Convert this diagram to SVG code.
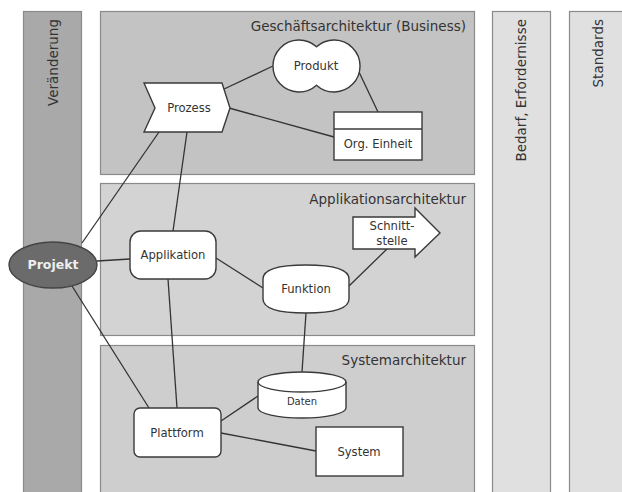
<svg xmlns="http://www.w3.org/2000/svg" width="622" height="492" viewBox="0 0 622 492">
<style>
text{font-family:"DejaVu Sans",Verdana,sans-serif;fill:#333}
.lane{stroke:#8a8a8a;stroke-width:1.2}
.title{font-size:13.5px;text-anchor:end}
.vt{font-size:13.5px;text-anchor:end}
.node{fill:#fff;stroke:#3a3a3a;stroke-width:1.4}
.lbl{font-size:11.6px;text-anchor:middle}
.conn line{stroke:#333;stroke-width:1.3}
</style>
<rect width="622" height="492" fill="#fff"/>
<g id="lanes">
<rect class="lane" x="23.5" y="11.5" width="58" height="490" fill="#a9a9a9"/>
<text class="vt" transform="translate(58,19) rotate(-90)">Veränderung</text>
<rect class="lane" x="492.5" y="11.5" width="58" height="490" fill="#e0e0e0"/>
<text class="vt" transform="translate(526,19) rotate(-90)">Bedarf, Erfordernisse</text>
<rect class="lane" x="569.5" y="11.5" width="60" height="490" fill="#e0e0e0"/>
<text class="vt" transform="translate(603,19) rotate(-90)">Standards</text>
</g>
<g id="layers">
<rect class="lane" x="100.5" y="11.5" width="374" height="163" fill="#c3c3c3"/>
<text class="title" x="466" y="31">Geschäftsarchitektur (Business)</text>
<rect class="lane" x="100.5" y="183.5" width="374" height="152" fill="#d3d3d3"/>
<text class="title" x="466" y="204">Applikationsarchitektur</text>
<rect class="lane" x="100.5" y="345.5" width="374" height="150" fill="#cecece"/>
<text class="title" x="466" y="365">Systemarchitektur</text>
</g>
<g class="conn" id="connectors">
<line x1="222" y1="90" x2="273" y2="66"/>
<line x1="229" y1="108" x2="334" y2="137"/>
<line x1="359" y1="72" x2="378" y2="112"/>
<line x1="159" y1="132" x2="82" y2="243"/>
<line x1="187" y1="132" x2="173" y2="231"/>
<line x1="97" y1="261" x2="130" y2="259"/>
<line x1="72" y1="286" x2="149" y2="408"/>
<line x1="216" y1="258" x2="263" y2="288"/>
<line x1="349" y1="286" x2="387" y2="249"/>
<line x1="306" y1="313" x2="302" y2="372"/>
<line x1="168" y1="279" x2="177" y2="408"/>
<line x1="221" y1="421" x2="258" y2="396"/>
<line x1="221" y1="433" x2="316" y2="451"/>
</g>
<g id="prozess">
<path class="node" d="M144,83 L222,83 L230,108 L222,132 L144,132 L155,108 Z"/>
<text class="lbl" x="189" y="112">Prozess</text>
</g>
<g id="produkt">
<path class="node" d="M316.5,46.8 A26,26 0 1,0 316.5,85.2 A26,26 0 1,0 316.5,46.8 Z"/>
<text class="lbl" x="316" y="70">Produkt</text>
</g>
<g id="org-einheit">
<rect class="node" x="334" y="112" width="88" height="48"/>
<line x1="334" y1="129" x2="422" y2="129" stroke="#3a3a3a" stroke-width="1.4"/>
<text class="lbl" x="378" y="148">Org. Einheit</text>
</g>
<g id="projekt">
<ellipse cx="53" cy="265" rx="44" ry="23" fill="#6b6b6b" stroke="#444" stroke-width="1.4"/>
<text class="lbl" x="53" y="269" style="fill:#eee;font-weight:bold;font-size:12.5px">Projekt</text>
</g>
<g id="applikation">
<rect class="node" x="130" y="231" width="86" height="48" rx="11"/>
<text class="lbl" x="173" y="259">Applikation</text>
</g>
<g id="funktion">
<path class="node" d="M263,279 Q263,265 306,265 Q349,265 349,279 L349,299 Q349,313 306,313 Q263,313 263,299 Z"/>
<text class="lbl" x="306" y="293">Funktion</text>
</g>
<g id="schnittstelle">
<path class="node" d="M353,217 L415,217 L415,208 L440,233 L415,257 L415,249 L353,249 Z"/>
<text class="lbl" x="392" y="230">Schnitt-</text>
<text class="lbl" x="392" y="245">stelle</text>
</g>
<g id="daten">
<path class="node" d="M258,382 L258,408 A44,10 0 0,0 346,408 L346,382 A44,10 0 0,0 258,382 Z"/>
<path d="M258,382 A44,10 0 0,0 346,382" fill="none" stroke="#3a3a3a" stroke-width="1.4"/>
<text class="lbl" x="302" y="405" style="font-size:10px">Daten</text>
</g>
<g id="plattform">
<rect class="node" x="134" y="408" width="87" height="49" rx="6"/>
<text class="lbl" x="177" y="437">Plattform</text>
</g>
<g id="system">
<rect class="node" x="316" y="427" width="87" height="49"/>
<text class="lbl" x="359" y="456">System</text>
</g>
</svg>
